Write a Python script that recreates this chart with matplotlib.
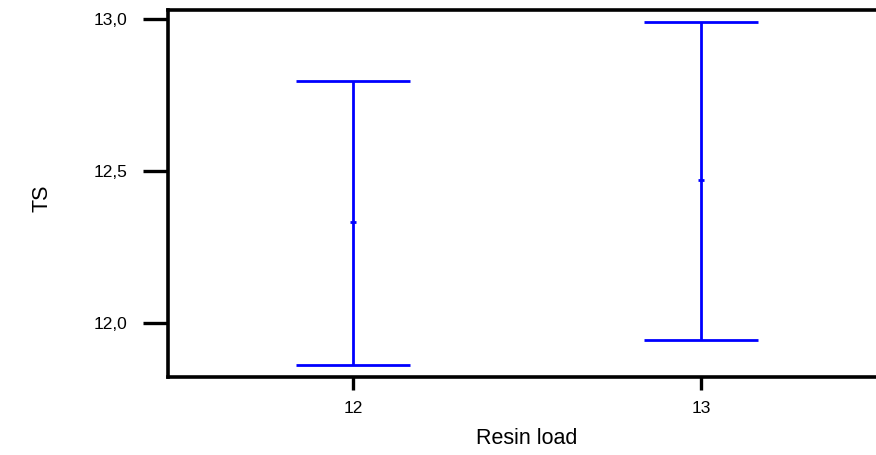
import matplotlib.pyplot as plt
import numpy as np

# Data
resin_load = [12, 13]
ts_mean = [12.331, 12.469]
ts_lower = [11.863, 11.943]
ts_upper = [12.795, 12.989]
ytick_vals = [12.0, 12.5, 13.0]
ytick_labels = ['12,0', '12,5', '13,0']

plt.rcParams['font.family'] = ['Liberation Sans', 'DejaVu Sans']

fig = plt.figure(figsize=(8.76, 4.55), dpi=100)
ax = fig.add_axes([168 / 876, 1 - 377 / 455, 720 / 876, 367 / 455])

x = np.array(resin_load)
mean = np.array(ts_mean)
yerr = [mean - np.array(ts_lower), np.array(ts_upper) - mean]
ax.errorbar(x, mean, yerr=yerr, fmt='_', color='#0000ff', ecolor='#0000ff',
            elinewidth=2.0, capsize=41, capthick=2.0, markersize=4, mew=2.0)

ax.set_xlim(11.468, 11.468 + 720 / 348)
ax.set_ylim(11.822, 13.030)
ax.set_xticks(resin_load)
ax.set_xticklabels([str(v) for v in resin_load])
ax.set_yticks(ytick_vals)
ax.set_yticklabels(ytick_labels)

for side in ['left', 'top', 'bottom']:
    ax.spines[side].set_linewidth(2.6)
ax.spines['right'].set_visible(False)
ax.tick_params(axis='y', direction='out', length=18, width=2.4, pad=11, labelsize=12.5)
ax.tick_params(axis='x', direction='out', length=9, width=2.4, pad=8, labelsize=12.5)

fig.text(527 / 876, 1 - 438 / 455, 'Resin load', fontsize=15.5, ha='center', va='center')
fig.text(42 / 876, 1 - 198 / 455, 'TS', fontsize=15.5, ha='center', va='center', rotation=90)

fig.savefig('out.png', dpi=100)
